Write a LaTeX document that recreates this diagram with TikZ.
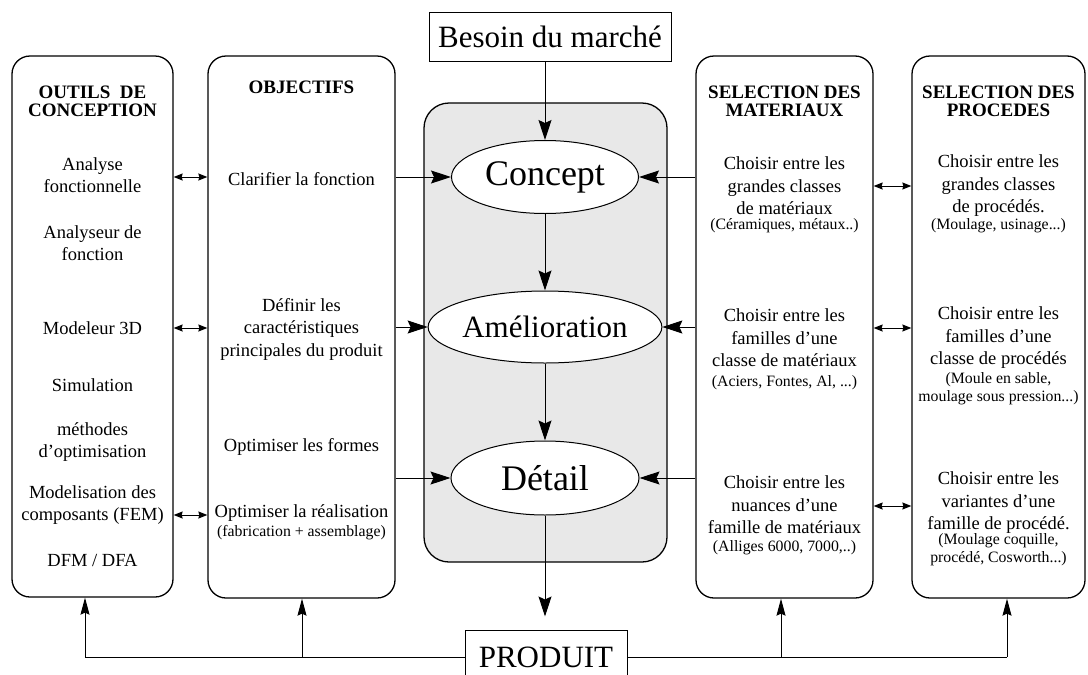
\documentclass[tikz,border=0pt]{standalone}
\usepackage{fontspec}
\setmainfont{Liberation Serif}
\usetikzlibrary{shapes.geometric,arrows.meta}
\begin{document}
\begin{tikzpicture}[x=1pt,y=-1pt,
  panel/.style={draw, line width=1.3pt, rounded corners=18pt, inner sep=0pt},
  body/.style={font=\fontsize{18.5}{22.5}\selectfont, align=center, inner sep=0pt},
  small/.style={font=\fontsize{15.8}{18}\selectfont, align=center, inner sep=0pt},
  hdr/.style={font=\fontsize{19}{18.5}\selectfont\bfseries, align=center, inner sep=0pt},
  oval/.style={draw, ellipse, fill=white, line width=1pt, inner sep=0pt},
  tbox/.style={draw, line width=1pt, inner sep=0pt, font=\fontsize{31}{31}\selectfont, fill=white},
  conn/.style={line width=1pt},
  big/.style={conn, -{Stealth[length=20pt,width=13pt,inset=3pt]}},
  up/.style={conn, -{Stealth[length=17pt,width=9pt,inset=2pt]}},
  dbl/.style={conn, {Stealth[length=9pt,width=7pt,inset=1pt]}-{Stealth[length=9pt,width=7pt,inset=1pt]}}]
\useasboundingbox (0,0) rectangle (1088,675);

% panels
\node[panel, minimum width=161pt, minimum height=541pt] (b1) at (92.5,326.5) {};
\node[panel, minimum width=187pt, minimum height=542pt] (b2) at (301.5,327) {};
\node[panel, minimum width=243pt, minimum height=459pt, rounded corners=25pt, fill=gray!18] (bc) at (545.5,332.5) {};
\node[panel, minimum width=177pt, minimum height=542pt] (b3) at (784.5,327) {};
\node[panel, minimum width=173pt, minimum height=542pt] (b4) at (998.5,327) {};

% top / bottom boxes
\node[tbox, minimum width=242pt, minimum height=49pt] (besoin) at (550,36.5) {Besoin du marché};
\node[tbox, minimum width=162pt, minimum height=54pt] (prod) at (546,657) {PRODUIT};

% ellipses
\node[oval, minimum width=187pt, minimum height=73pt, font=\fontsize{36}{36}\selectfont] (concept) at (545,177) {Concept};
\node[oval, minimum width=207pt, minimum height=72pt, font=\fontsize{31}{31}\selectfont] (amel) at (545,327) {Amélioration};
\node[oval, minimum width=188pt, minimum height=74pt, font=\fontsize{36}{36}\selectfont] (detail) at (545,478) {Détail};

% box 1 texts
\node[hdr] (h1) at (92.5,101.5) {OUTILS~ DE\\CONCEPTION};
\node[body] (a1) at (92.5,175) {Analyse\\fonctionnelle};
\node[body] (a2) at (92.5,243) {Analyseur de\\fonction};
\node[body] (a3) at (92.5,328) {Modeleur 3D};
\node[body] (a4) at (92.5,385) {Simulation};
\node[body] (a5) at (92.5,442) {méthodes\\d’optimisation};
\node[body] (a6) at (92.5,505) {Modelisation des\\composants (FEM)};
\node[body] (a7) at (92.5,560) {DFM / DFA};

% box 2 texts
\node[hdr] (h2) at (301.5,87) {OBJECTIFS};
\node[body] (o1) at (301.5,179) {Clarifier la fonction};
\node[body] (o2) at (301.5,329) {Définir les\\caractéristiques\\principales du produit};
\node[body] (o3) at (301.5,447) {Optimiser les formes};
\node[body] (o4) at (301.5,513) {Optimiser la réalisation};
\node[small] (o4s) at (301.5,533) {(fabrication + assemblage)};

% box 3 texts
\node[hdr] (h3) at (784.5,101.5) {SELECTION DES\\MATERIAUX};
\node[body] (m1) at (784.5,186) {Choisir entre les\\grandes classes\\de matériaux};
\node[small] (m1s) at (784.5,226) {(Céramiques, métaux..)};
\node[body] (m2) at (784.5,338) {Choisir entre les\\familles d’une\\classe de matériaux};
\node[small] (m2s) at (784.5,383) {(Aciers, Fontes, Al, ...)};
\node[body] (m3) at (784.5,505) {Choisir entre les\\nuances d’une\\famille de matériaux};
\node[small] (m3s) at (784.5,548) {(Alliges 6000, 7000,..)};

% box 4 texts
\node[hdr] (h4) at (998.5,101.5) {SELECTION DES\\PROCEDES};
\node[body] (p1) at (998.5,186) {Choisir entre les\\grandes classes\\de procédés.};
\node[small] (p1s) at (998.5,226) {(Moulage, usinage...)};
\node[body] (p2) at (998.5,338) {Choisir entre les\\familles d’une\\classe de procédés};
\node[small] (p2s) at (998.5,389) {(Moule en sable,\\moulage sous pression...)};
\node[body] (p3) at (998.5,503) {Choisir entre les\\variantes d’une\\famille de procédé.};
\node[small] (p3s) at (998.5,550) {(Moulage coquille,\\procédé, Cosworth...)};

% helper levels
\coordinate (L1) at (0,177);
\coordinate (L2) at (0,328);
\coordinate (L3) at (0,515);
\coordinate (R1) at (0,186);
\coordinate (R2) at (0,328);
\coordinate (R3) at (0,506);

% double arrows between side panels
\draw[dbl] (b1.east |- L1) -- (b2.west |- L1);
\draw[dbl] (b1.east |- L2) -- (b2.west |- L2);
\draw[dbl] (b1.east |- L3) -- (b2.west |- L3);
\draw[dbl] (b3.east |- R1) -- (b4.west |- R1);
\draw[dbl] (b3.east |- R2) -- (b4.west |- R2);
\draw[dbl] (b3.east |- R3) -- (b4.west |- R3);

% arrows into ellipses
\draw[big] (b2.east |- concept) -- (concept);
\draw[big] (b2.east |- amel) -- (amel);
\draw[big] (b2.east |- detail) -- (detail);
\draw[big] (b3.west |- concept) -- (concept);
\draw[big] (b3.west |- amel) -- (amel);
\draw[big] (b3.west |- detail) -- (detail);

% vertical flow
\draw[big] (besoin.south -| concept) -- (concept);
\draw[big] (concept) -- (amel);
\draw[big] (amel) -- (detail);
\draw[big, shorten >=13pt] (detail) -- (prod.north -| detail);

% feedback from PRODUIT
\coordinate (k1) at (85,657);
\coordinate (k2) at (302,657);
\coordinate (k3) at (781,657);
\coordinate (k4) at (1007,657);
\draw[conn] (prod.west) -- (k1);
\draw[conn] (prod.east) -- (k4);
\draw[up] (k1) -- (k1 |- b1.south);
\draw[up] (k2) -- (k2 |- b2.south);
\draw[up] (k3) -- (k3 |- b3.south);
\draw[up] (k4) -- (k4 |- b4.south);
\end{tikzpicture}
\end{document}
